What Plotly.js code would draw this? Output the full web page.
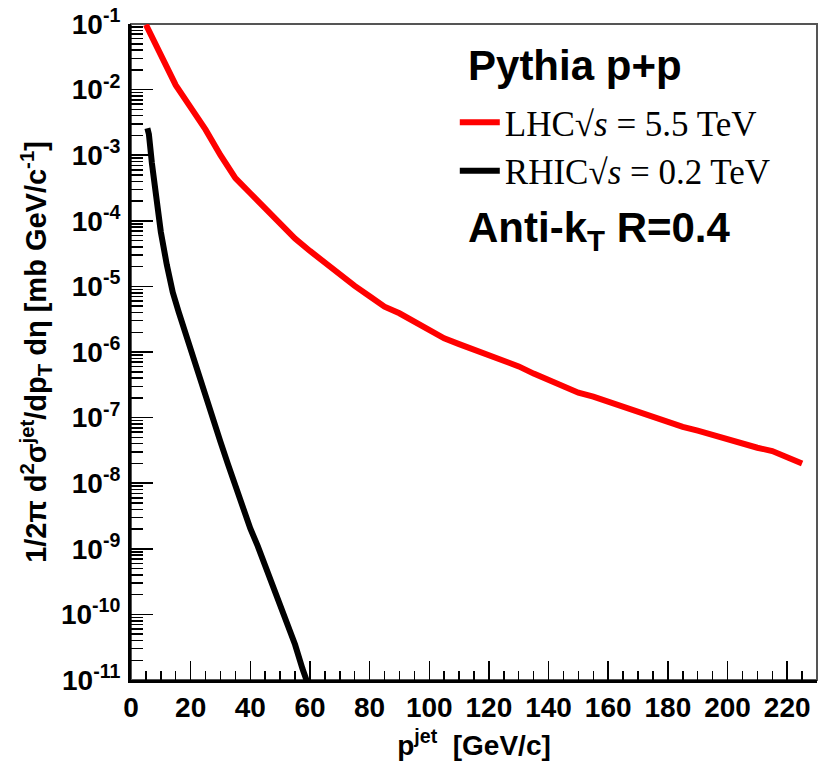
<!DOCTYPE html>
<html>
<head>
<meta charset="utf-8">
<script src="https://cdn.plot.ly/plotly-3.0.1.min.js"></script>
<style>html,body{margin:0;padding:0;background:#fff;}#chart{width:821px;height:775px;}</style>
</head>
<body>
<div id="chart"></div>
<script>
// LHC sqrt(s)=5.5 TeV
const lhcPt = [5,10,15,20,25,30,35,40,45,50,55,60,65,70,75,80,85,90,95,100,105,110,115,120,125,130,135,140,145,150,155,160,165,170,175,180,185,190,195,200,205,210,215,220,225];
const lhcXsec = [9.8e-2,3.39e-2,1.17e-2,5.37e-3,2.45e-3,1.0e-3,4.47e-4,2.63e-4,1.55e-4,9.12e-5,5.37e-5,3.47e-5,2.29e-5,1.55e-5,1.02e-5,7.08e-6,4.90e-6,3.89e-6,2.95e-6,2.14e-6,1.62e-6,1.32e-6,1.10e-6,9.12e-7,7.59e-7,6.03e-7,4.68e-7,3.72e-7,2.95e-7,2.40e-7,2.09e-7,1.74e-7,1.48e-7,1.20e-7,1.02e-7,8.51e-8,7.24e-8,6.31e-8,5.37e-8,4.57e-8,3.98e-8,3.47e-8,3.09e-8,2.51e-8,2.0e-8];
// RHIC sqrt(s)=0.2 TeV
const rhicPt = [5.5,6,7,8,9,10,12,14,16,18,20,22.5,25,27.5,30,32.5,35,37.5,40,42.5,45,47.5,50,52.5,55,57.5,60];
const rhicXsec = [2.57e-3,2.09e-3,7.59e-4,3.16e-4,1.41e-4,6.76e-5,2.14e-5,8.13e-6,4.07e-6,2.09e-6,1.07e-6,4.57e-7,1.95e-7,9.33e-8,4.27e-8,1.95e-8,8.91e-9,4.17e-9,2.04e-9,1.10e-9,5.62e-10,2.69e-10,1.32e-10,6.92e-11,3.47e-11,1.48e-11,7.08e-12];

const yExponents = [-11,-10,-9,-8,-7,-6,-5,-4,-3,-2,-1];
const yTickVals = yExponents.map(e => Math.pow(10, e));
const yTickText = yExponents.map(e => '10<sup>' + e + '</sup>');
const yMinorVals = [];
for (let e = -11; e < -1; e++) { for (let m = 2; m <= 9; m++) yMinorVals.push(m * Math.pow(10, e)); }

function sans(size){ return {family: 'Liberation Sans, Arial, sans-serif', size: size, color: '#000', weight: 'bold'}; }

// label anchor positions (in axis units)
const labelPythia = {x: 113, y: 2.0e-2};
const labelAntiKt = {x: 113, y: 6.8e-5};
const labelSubT = {x: 96.5, y: 5.2e-13};

function textTrace(pos, txt, size, where) {
  return {x: [pos.x], y: [pos.y], type: 'scatter', mode: 'text', text: [txt],
          textposition: where, textfont: sans(size), showlegend: false,
          hoverinfo: 'skip', cliponaxis: false};
}

const traces = [
  {x: lhcPt, y: lhcXsec, type: 'scatter', mode: 'lines', name: 'LHC√<i>s</i> = 5.5 TeV',
   line: {color: '#ff0000', width: 6}},
  {x: rhicPt, y: rhicXsec, type: 'scatter', mode: 'lines', name: 'RHIC√<i>s</i> = 0.2 TeV',
   line: {color: '#000000', width: 6}},
  textTrace(labelPythia, 'Pythia p+p', 42, 'middle right'),
  textTrace(labelAntiKt, 'Anti-k<sub>T</sub> R=0.4', 42, 'middle right'),
  textTrace(labelSubT, 'T', 19, 'middle center')
];

const layout = {
  width: 821, height: 775,
  margin: {l: 131, r: 4, t: 24, b: 95},
  showlegend: true,
  legend: {x: 0.472, y: 0.895, xanchor: 'left', yanchor: 'top',
           font: {family: 'Liberation Serif, Times New Roman, serif', size: 35, color: '#000'},
           bgcolor: 'rgba(0,0,0,0)', itemwidth: 40, tracegroupgap: 0},
  xaxis: {type: 'linear', range: [0, 230], tickmode: 'linear', tick0: 0, dtick: 20,
    ticks: 'inside', ticklen: 19, tickwidth: 1.5, tickcolor: '#000',
    minor: {ticks: 'inside', ticklen: 9, tickwidth: 1.5, tickcolor: '#000', dtick: 5, tick0: 0, showgrid: false},
    showline: true, linewidth: 3, linecolor: '#000', mirror: false,
    showgrid: false, zeroline: false, tickfont: sans(28),
    title: {text: 'p<sup>jet</sup>  [GeV/c]', font: sans(28), standoff: 14}},
  yaxis: {type: 'log', range: [-11, -1], tickmode: 'array', tickvals: yTickVals, ticktext: yTickText,
    ticks: 'inside', ticklen: 22, tickwidth: 1.5, tickcolor: '#000',
    minor: {ticks: 'inside', ticklen: 12, tickwidth: 1.5, tickcolor: '#000', tickmode: 'array', tickvals: yMinorVals, showgrid: false},
    showline: true, linewidth: 3, linecolor: '#000', mirror: false,
    showgrid: false, zeroline: false, tickfont: sans(28), ticklabelstandoff: 2,
    title: {text: '1/2π d<sup>2</sup>σ<sup>jet</sup>/dp<sub>T</sub> dη [mb GeV/c<sup>-1</sup>]', font: sans(29), standoff: 6}},
  shapes: [
    {type: 'rect', xref: 'paper', yref: 'paper', x0: 0, x1: 1, y0: 0, y1: 1,
     line: {color: '#555', width: 2}, layer: 'below'}
  ]
};

Plotly.newPlot('chart', traces, layout, {displayModeBar: false, staticPlot: true});
</script>
</body>
</html>
